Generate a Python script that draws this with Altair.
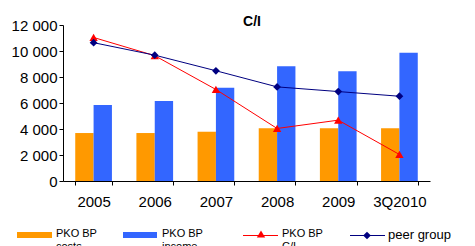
import altair as alt
import pandas as pd

years = ["2005", "2006", "2007", "2008", "2009", "3Q2010"]
costs = [3690, 3690, 3790, 4050, 4050, 4050]
income = [5850, 6150, 7180, 8820, 8440, 9870]
ci = [62.6, 59.1, 52.6, 45.1, 46.7, 40.1]
peer = [61.6, 59.2, 56.2, 53.1, 52.2, 51.3]

left_ticks = [0, 2000, 4000, 6000, 8000, 10000, 12000]
right_ticks = [35, 50, 65]

FONT = "Liberation Sans"
ORANGE = "#FF9900"
BLUE = "#3366FF"
RED = "#FF0000"
NAVY = "#000080"

df = pd.DataFrame({"year": years, "costs": costs, "income": income, "ci": ci, "peer": peer})

xenc = alt.X("year:N", sort=years, title=None,
             scale=alt.Scale(paddingInner=0.4, paddingOuter=0.2),
             axis=alt.Axis(labelAngle=0, tickBand="extent", tickSize=4, labelPadding=9,
                           labelFontSize=15))

bars = alt.Chart(df).transform_fold(["costs", "income"], as_=["series", "value"]).mark_bar().encode(
    x=xenc,
    xOffset=alt.XOffset("series:N", sort=["costs", "income"],
                        scale=alt.Scale(paddingInner=0, paddingOuter=0)),
    y=alt.Y("value:Q", title=None,
            scale=alt.Scale(domain=[0, 12000], nice=False, zero=True),
            axis=alt.Axis(values=left_ticks, tickSize=4, labelPadding=2, labelFontSize=15,
                          labelExpr="replace(format(datum.value, ',d'), ',', ' ')")),
    color=alt.Color("series:N", scale=alt.Scale(domain=["costs", "income"], range=[ORANGE, BLUE]),
                    legend=None),
)

yr = alt.Scale(domain=[35, 65], nice=False, zero=False)
base = alt.Chart(df)
ci_line = base.mark_line(color=RED, strokeWidth=1).encode(
    x=alt.X("year:N", sort=years),
    y=alt.Y("ci:Q", scale=yr, title=None,
            axis=alt.Axis(orient="right", values=right_ticks, tickSize=4, labelPadding=8,
                          labelFontSize=15, labelExpr="datum.value + '%'")))
ci_pts = base.mark_point(shape="triangle-up", filled=True, color=RED, size=70, opacity=1).encode(
    x=alt.X("year:N", sort=years), y=alt.Y("ci:Q", scale=yr, axis=None))
peer_line = base.mark_line(color=NAVY, strokeWidth=1).encode(
    x=alt.X("year:N", sort=years), y=alt.Y("peer:Q", scale=yr, axis=None))
peer_pts = base.mark_point(shape="diamond", filled=True, color=NAVY, size=60, opacity=1).encode(
    x=alt.X("year:N", sort=years), y=alt.Y("peer:Q", scale=yr, axis=None))

lines = alt.layer(ci_line, ci_pts, peer_line, peer_pts)

one = pd.DataFrame({"k": [0]})
title = alt.Chart(one).mark_text(text="C/I", font=FONT, fontSize=14, fontWeight="bold",
                                 align="center", baseline="alphabetic", color="black").encode(
    x=alt.value(189), y=alt.value(1))

leg_cost_sw = alt.Chart(one).mark_rect(color=ORANGE).encode(
    x=alt.value(-46), x2=alt.value(-11), y=alt.value(207), y2=alt.value(213))
leg_cost_tx = alt.Chart(one).mark_text(text="PKO  BP\ncosts", lineBreak="\n", font=FONT, fontSize=11,
                                       align="left", baseline="top", color="black").encode(
    x=alt.value(-7), y=alt.value(203))
leg_inc_sw = alt.Chart(one).mark_rect(color=BLUE).encode(
    x=alt.value(60), x2=alt.value(94), y=alt.value(207), y2=alt.value(213))
leg_inc_tx = alt.Chart(one).mark_text(text="PKO BP\nincome", lineBreak="\n", font=FONT, fontSize=11,
                                      align="left", baseline="top", color="black").encode(
    x=alt.value(99), y=alt.value(203))
leg_ci_ln = alt.Chart(one).mark_rule(color=RED, strokeWidth=1).encode(
    x=alt.value(180), x2=alt.value(215), y=alt.value(210.5))
leg_ci_pt = alt.Chart(one).mark_point(shape="triangle-up", filled=True, color=RED, size=70, opacity=1).encode(
    x=alt.value(198), y=alt.value(209))
leg_ci_tx = alt.Chart(one).mark_text(text="PKO BP\nC/I", lineBreak="\n", font=FONT, fontSize=11,
                                     align="left", baseline="top", color="black").encode(
    x=alt.value(219), y=alt.value(203))
leg_peer_ln = alt.Chart(one).mark_rule(color=NAVY, strokeWidth=1).encode(
    x=alt.value(287), x2=alt.value(322), y=alt.value(210.5))
leg_peer_pt = alt.Chart(one).mark_point(shape="diamond", filled=True, color=NAVY, size=60, opacity=1).encode(
    x=alt.value(304), y=alt.value(210.5))
leg_peer_tx = alt.Chart(one).mark_text(text="peer group", font=FONT, fontSize=13,
                                       align="left", baseline="middle", color="black").encode(
    x=alt.value(325), y=alt.value(210))

chart = alt.layer(
    bars, lines, title,
    leg_cost_sw, leg_cost_tx, leg_inc_sw, leg_inc_tx,
    leg_ci_ln, leg_ci_pt, leg_ci_tx, leg_peer_ln, leg_peer_pt, leg_peer_tx,
).resolve_scale(y="independent").properties(
    width=367, height=156,
    autosize=alt.AutoSizeParams(type="none"),
    padding={"left": 55, "top": 17, "right": 37, "bottom": 65},
).configure_view(stroke=None).configure_axis(
    domainColor="black", tickColor="black", labelColor="black", labelFont=FONT, grid=False,
    domainWidth=1, tickWidth=1,
)

chart.save("out.html", embed_options={"renderer": "svg", "actions": False})
